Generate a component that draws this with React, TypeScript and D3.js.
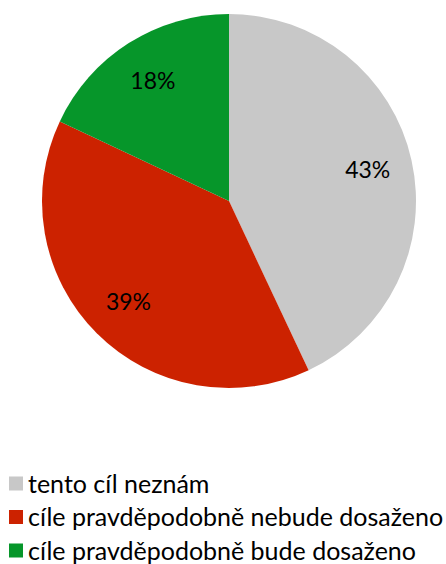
import React, { useRef, useEffect } from 'react';
import * as d3 from 'd3';

const categories = ['tento cíl neznám', 'cíle pravděpodobně nebude dosaženo', 'cíle pravděpodobně bude dosaženo'];
const values = [43, 39, 18];
const colors = ['#c8c8c8', '#cc2200', '#06962a'];

const App: React.FC = () => {
  const svgRef = useRef<SVGSVGElement | null>(null);

  useEffect(() => {
    if (!svgRef.current) return;
    const svg = d3.select(svgRef.current);
    svg.selectAll('*').remove();

    const width = 446;
    const height = 564;
    const cx = 229;
    const cy = 201;
    const radius = 187;
    const font = 'Lato, "Open Sans", sans-serif';

    svg.attr('width', width).attr('height', height);

    const data = categories.map((c, i) => ({ label: c, value: values[i], color: colors[i] }));
    type Slice = { label: string; value: number; color: string };

    const pie = d3.pie<Slice>()
      .value((d) => d.value)
      .sort(null);

    const arc = d3.arc<d3.PieArcDatum<Slice>>()
      .innerRadius(0)
      .outerRadius(radius);

    const labelArc = d3.arc<d3.PieArcDatum<Slice>>()
      .innerRadius(radius * 0.76)
      .outerRadius(radius * 0.76);

    const g = svg.append('g').attr('transform', `translate(${cx},${cy})`);
    const arcs = pie(data);

    g.selectAll('path')
      .data(arcs)
      .enter()
      .append('path')
      .attr('d', arc)
      .attr('fill', (d) => d.data.color);

    g.selectAll('text')
      .data(arcs)
      .enter()
      .append('text')
      .attr('transform', (d) => `translate(${labelArc.centroid(d)})`)
      .attr('text-anchor', 'middle')
      .attr('dy', '0.36em')
      .style('font-family', font)
      .style('font-size', '23px')
      .attr('fill', '#000')
      .text((d) => `${d.data.value}%`);

    // legend
    const legend = svg.append('g').attr('transform', 'translate(9,476.5)');
    const rows = legend.selectAll('g')
      .data(data)
      .enter()
      .append('g')
      .attr('transform', (_d, i) => `translate(0,${i * 33.5})`);

    rows.append('rect')
      .attr('x', 0)
      .attr('y', 0)
      .attr('width', 14)
      .attr('height', 14)
      .attr('fill', (d) => d.color);

    rows.append('text')
      .attr('x', 19)
      .attr('y', 16)
      .style('font-family', font)
      .style('font-size', '25px')
      .attr('fill', '#000')
      .text((d) => d.label);
  }, []);

  return (
    <div style={{ position: 'absolute', left: 0, top: 0 }}>
      <svg ref={svgRef} style={{ display: 'block' }} />
    </div>
  );
};

export default App;
